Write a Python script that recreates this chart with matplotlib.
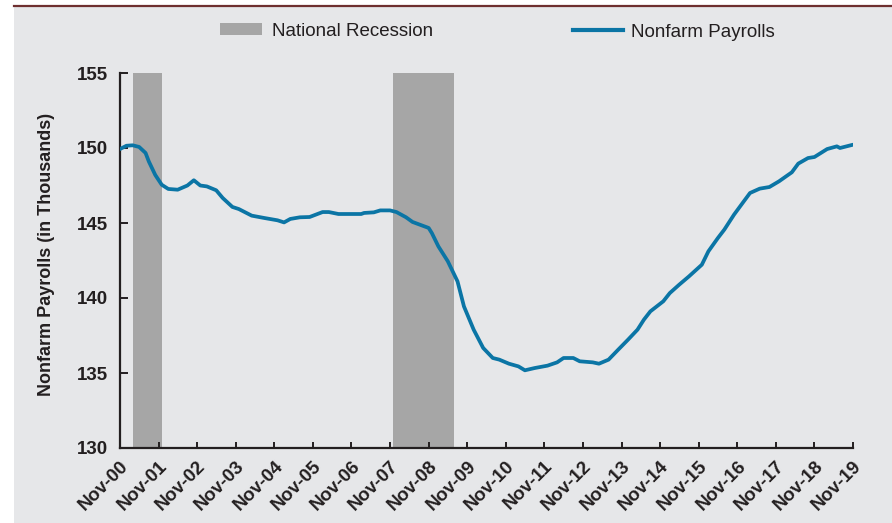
import numpy as np
import pandas as pd
import matplotlib
matplotlib.use("Agg")
import matplotlib.pyplot as plt
from matplotlib.patches import Rectangle, Patch
from matplotlib.lines import Line2D

# Nonfarm payrolls (month, value)
months = ["2000-11", "2001-01", "2001-03", "2001-05", "2001-07", "2001-08", "2001-10",
          "2001-12", "2002-02", "2002-05", "2002-08", "2002-10", "2002-12", "2003-02",
          "2003-05", "2003-07", "2003-10", "2003-12", "2004-04", "2004-08", "2004-12",
          "2005-02", "2005-04", "2005-07", "2005-10", "2006-02", "2006-04", "2006-07",
          "2007-02", "2007-03", "2007-06", "2007-08", "2007-11", "2008-01", "2008-04",
          "2008-06", "2008-11", "2008-12", "2009-02", "2009-05", "2009-08", "2009-10",
          "2010-01", "2010-04", "2010-07", "2010-09", "2010-12", "2011-03", "2011-05",
          "2011-08", "2011-12", "2012-03", "2012-05", "2012-08", "2012-10", "2013-02",
          "2013-04", "2013-07", "2013-10", "2014-01", "2014-04", "2014-06", "2014-08",
          "2014-12", "2015-02", "2015-05", "2015-08", "2015-12", "2016-02", "2016-05",
          "2016-07", "2016-10", "2017-01", "2017-03", "2017-06", "2017-09", "2017-12",
          "2018-04", "2018-06", "2018-09", "2018-11", "2019-03", "2019-06", "2019-07",
          "2019-11"]
payrolls = [149.93, 150.15, 150.18, 150.07, 149.67, 149.10, 148.20,
            147.55, 147.27, 147.22, 147.50, 147.85, 147.50, 147.44,
            147.18, 146.67, 146.07, 145.93, 145.49, 145.33, 145.18,
            145.04, 145.27, 145.38, 145.40, 145.73, 145.73, 145.60,
            145.60, 145.67, 145.71, 145.84, 145.84, 145.73, 145.38,
            145.07, 144.67, 144.33, 143.44, 142.45, 141.11, 139.44,
            137.89, 136.67, 136.00, 135.89, 135.62, 135.44, 135.18,
            135.33, 135.49, 135.71, 136.00, 136.00, 135.78, 135.71,
            135.62, 135.89, 136.56, 137.22, 137.89, 138.56, 139.11,
            139.78, 140.33, 140.89, 141.44, 142.22, 143.11, 144.00,
            144.56, 145.56, 146.44, 147.00, 147.29, 147.40, 147.78,
            148.38, 148.96, 149.33, 149.40, 149.93, 150.11, 150.00,
            150.22]

recession_start = ["2001-03-01", "2007-12-01"]
recession_end = ["2001-12-01", "2009-07-01"]

tick_years = list(range(2000, 2020))
tick_labels = [f"Nov-{y % 100:02d}" for y in tick_years]

bg = "#E6E7E9"
line_col = "#0B75A5"
rec_col = "#A6A6A6"
dark = "#231F20"

dates = pd.to_datetime(months)

fig = plt.figure(figsize=(8.92, 5.23), dpi=100)
fig.patch.set_facecolor("white")
fig.patches.append(Rectangle((14 / 892, 0), 1, 1 - 7 / 523, transform=fig.transFigure,
                             facecolor=bg, edgecolor="none", zorder=-2))
fig.lines.append(Line2D([14 / 892, 1], [1 - 5.5 / 523] * 2, transform=fig.transFigure,
                        color="#6E2F2F", linewidth=1.6))

ax = fig.add_axes([120 / 892, 1 - 448 / 523, (853 - 120) / 892, (448 - 73) / 523])
ax.set_facecolor(bg)

for s, e in zip(recession_start, recession_end):
    ax.axvspan(pd.Timestamp(s), pd.Timestamp(e), color=rec_col, lw=0, zorder=1)

ax.plot(dates, payrolls, color=line_col, linewidth=2.7, zorder=3,
        solid_capstyle="round", solid_joinstyle="round")

ax.set_xlim(pd.Timestamp("2000-11-01"), pd.Timestamp("2019-11-01"))
ax.set_ylim(130, 155)
ax.set_yticks([130, 135, 140, 145, 150, 155])
ax.set_xticks([pd.Timestamp(f"{y}-11-01") for y in tick_years])
ax.set_xticklabels(tick_labels, rotation=45, ha="right", va="top",
                   rotation_mode="anchor")

for side in ["top", "right"]:
    ax.spines[side].set_visible(False)
for side in ["left", "bottom"]:
    ax.spines[side].set_color(dark)
    ax.spines[side].set_linewidth(1.6)

ax.tick_params(axis="x", direction="in", length=4, width=1.4, color=dark, pad=7)
ax.tick_params(axis="y", direction="in", length=5.5, width=1.4, color=dark, pad=9)
for lab in ax.get_xticklabels() + ax.get_yticklabels():
    lab.set_fontfamily("Liberation Sans")
    lab.set_fontweight("bold")
    lab.set_color(dark)
    lab.set_fontsize(13.5)

ax.set_ylabel("Nonfarm Payrolls (in Thousands)", fontfamily="Liberation Sans",
              fontweight="bold", fontsize=13, color=dark)
ax.yaxis.set_label_coords(55 / 892, 0.5, transform=fig.transFigure)
ax.yaxis.label.set_y(1 - 254 / 523)

leg_font = {"family": "Liberation Sans", "size": 13.5}
leg1 = fig.legend(handles=[Patch(facecolor=rec_col, edgecolor="none")],
                  labels=["National Recession"], loc="center left",
                  bbox_to_anchor=(220 / 892, 1 - 31 / 523), frameon=False,
                  prop=leg_font, handlelength=2.24, handleheight=0.55,
                  handletextpad=0.53, borderpad=0, borderaxespad=0)
leg2 = fig.legend(handles=[Line2D([], [], color=line_col, linewidth=3.0)],
                  labels=["Nonfarm Payrolls"], loc="center left",
                  bbox_to_anchor=(573 / 892, 1 - 32 / 523), frameon=False,
                  prop=leg_font, handlelength=2.67, handletextpad=0.43,
                  borderpad=0, borderaxespad=0)
for leg in (leg1, leg2):
    for t in leg.get_texts():
        t.set_color(dark)

fig.savefig("out.png", dpi=100)
